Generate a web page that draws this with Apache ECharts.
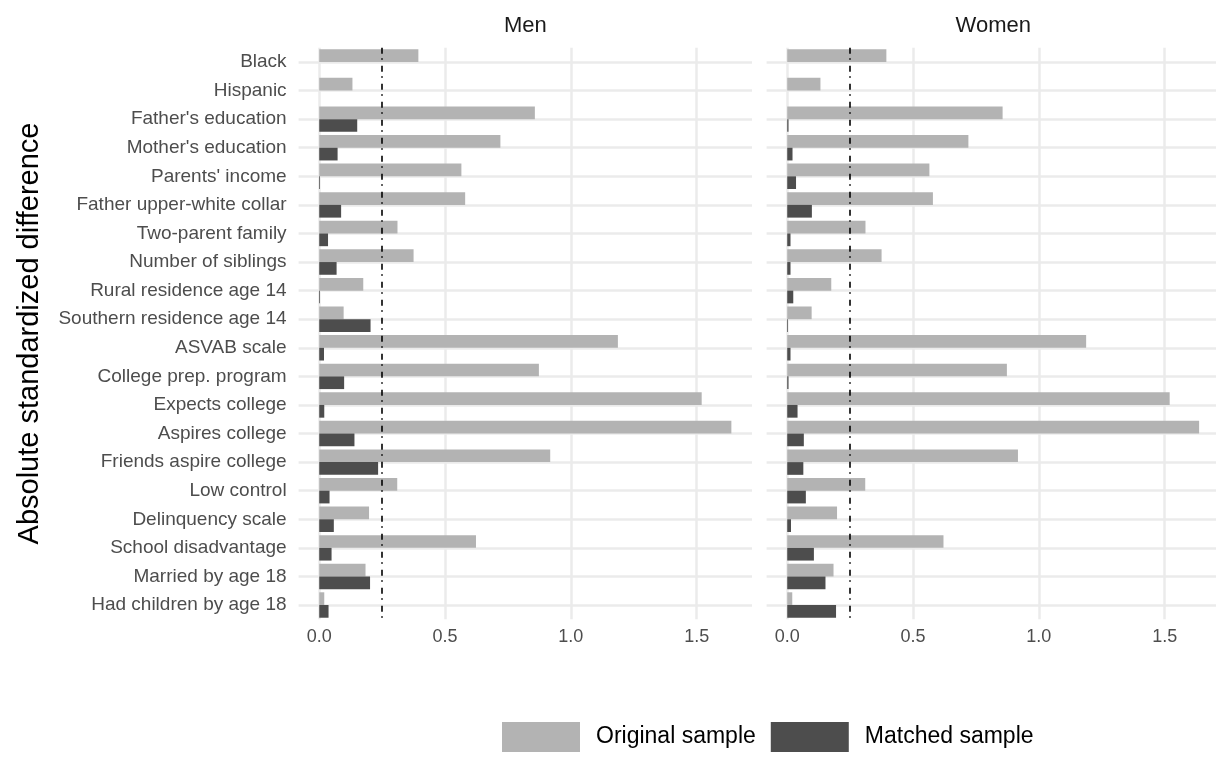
<!DOCTYPE html>
<html>
<head>
<meta charset="utf-8">
<script src="https://cdn.jsdelivr.net/npm/echarts@6/dist/echarts.min.js"></script>
<style>
  html, body { margin: 0; padding: 0; background: #fff; }
  #chart { width: 1216px; height: 778px; }
</style>
</head>
<body>
<div id="chart"></div>
<script>
// 变量（从上到下）
var categories = ['Black', 'Hispanic', "Father's education", "Mother's education", "Parents' income",
    'Father upper-white collar', 'Two-parent family', 'Number of siblings', 'Rural residence age 14',
    'Southern residence age 14', 'ASVAB scale', 'College prep. program', 'Expects college',
    'Aspires college', 'Friends aspire college', 'Low control', 'Delinquency scale',
    'School disadvantage', 'Married by age 18', 'Had children by age 18'];

var menOriginal = [0.394, 0.132, 0.857, 0.720, 0.565, 0.580, 0.311, 0.375, 0.175, 0.097,
    1.187, 0.873, 1.520, 1.638, 0.918, 0.310, 0.198, 0.623, 0.184, 0.020];
var menMatched = [0, 0, 0.151, 0.073, 0.003, 0.087, 0.035, 0.069, 0.003, 0.204,
    0.019, 0.099, 0.020, 0.140, 0.234, 0.041, 0.058, 0.049, 0.202, 0.037];
var womenOriginal = [0.394, 0.132, 0.856, 0.720, 0.565, 0.579, 0.311, 0.375, 0.175, 0.097,
    1.188, 0.873, 1.520, 1.637, 0.917, 0.310, 0.198, 0.621, 0.184, 0.020];
var womenMatched = [0, 0, 0.005, 0.021, 0.035, 0.098, 0.013, 0.013, 0.024, 0.003,
    0.013, 0.005, 0.041, 0.066, 0.064, 0.074, 0.015, 0.106, 0.152, 0.194];

var xTicks = [0, 0.5, 1, 1.5];
var threshold = 0.25;
var panels = ['Men', 'Women'];
var seriesNames = ['Original sample', 'Matched sample'];
var colors = ['#B3B3B3', '#4D4D4D'];

var myChart = echarts.init(document.getElementById('chart'));

var gridTop = 47.7, gridHeight = 571.6, gridWidth = 453.4;
var gridLefts = [298.6, 766.6];

var tickFmt = function (v) {
    for (var i = 0; i < xTicks.length; i++) {
        if (Math.abs(v - xTicks[i]) < 1e-6) return xTicks[i].toFixed(1);
    }
    return '';
};

var grids = [], xAxes = [], yAxes = [], titles = [];
for (var p = 0; p < 2; p++) {
    grids.push({ left: gridLefts[p], top: gridTop, width: gridWidth, height: gridHeight, outerBoundsMode: 'none' });
    titles.push({
        text: panels[p],
        left: gridLefts[p] + gridWidth / 2,
        top: 15,
        padding: 0,
        textAlign: 'center',
        textStyle: { fontSize: 22, fontWeight: 'normal', color: '#1A1A1A', fontFamily: 'Liberation Sans' }
    });
    xAxes.push({
        type: 'value', gridIndex: p, min: -0.082, max: 1.72, splitNumber: 4,
        axisLine: { show: false }, axisTick: { show: false },
        axisLabel: { formatter: tickFmt, fontSize: 18, color: '#4D4D4D', margin: 9, showMinLabel: false, showMaxLabel: false },
        splitLine: { show: true, showMinLine: false, showMaxLine: false, lineStyle: { color: '#EBEBEB', width: 2.5 } }
    });
    // 类目轴
    yAxes.push({
        type: 'category', gridIndex: p, data: categories, inverse: true,
        axisLine: { show: false }, axisTick: { show: false }, splitLine: { show: false },
        axisLabel: { show: p === 0, fontSize: 19, color: '#4D4D4D', margin: 12 },
        name: p === 0 ? 'Absolute standardized difference' : '',
        nameLocation: 'middle', nameRotate: 90, nameGap: 254,
        nameTextStyle: { fontSize: 29, color: '#000' }
    });
}
// 横向网格线：放在类目中心
for (var q = 0; q < 2; q++) {
    yAxes.push({
        type: 'value', gridIndex: q, min: -0.5, max: 19.5, splitNumber: 20,
        axisLine: { show: false }, axisTick: { show: false }, axisLabel: { show: false },
        splitLine: { show: true, showMinLine: false, showMaxLine: false, lineStyle: { color: '#EBEBEB', width: 2.5 } }
    });
}

var dataSets = [[menOriginal, menMatched], [womenOriginal, womenMatched]];
var series = [];
for (var k = 0; k < 2; k++) {
    for (var s = 0; s < 2; s++) {
        var item = {
            name: seriesNames[s],
            type: 'bar',
            xAxisIndex: k,
            yAxisIndex: k,
            data: dataSets[k][s],
            barGap: '0%',
            barCategoryGap: '11%',
            itemStyle: { color: colors[s] },
            emphasis: { disabled: true }
        };
        if (s === 1) {
            item.markLine = {
                silent: true,
                symbol: ['none', 'none'],
                label: { show: false },
                lineStyle: { color: '#000', width: 1.6, type: [6, 4.5, 1.5, 6] },
                data: [{ xAxis: threshold }]
            };
        }
        series.push(item);
    }
}

var option = {
    animation: false,
    textStyle: { fontFamily: 'Liberation Sans' },
    title: titles,
    grid: grids,
    xAxis: xAxes,
    yAxis: yAxes,
    legend: {
        data: seriesNames,
        left: 502,
        top: 722,
        padding: 0,
        icon: 'rect',
        itemWidth: 78,
        itemHeight: 30,
        itemGap: 15,
        textStyle: { fontSize: 23, color: '#000', padding: [0, 0, 0, 11] }
    },
    series: series
};
myChart.setOption(option);
</script>
</body>
</html>
